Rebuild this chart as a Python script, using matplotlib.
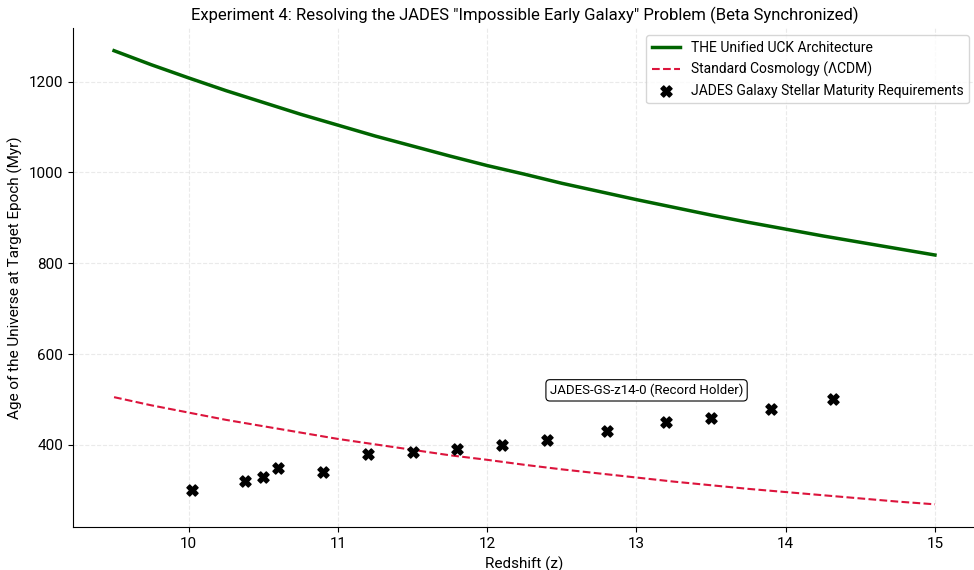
import matplotlib
matplotlib.use("Agg")
import matplotlib.pyplot as plt

plt.rcParams['font.family'] = ['Roboto', 'DejaVu Sans']

z_curve = [9.5, 9.75, 10.0, 10.25, 10.5, 10.75, 11.0, 11.25, 11.5, 11.75, 12.0,
           12.25, 12.5, 12.75, 13.0, 13.25, 13.5, 13.75, 14.0, 14.25, 14.5, 14.75, 15.0]
uck_age = [1268, 1237, 1208, 1180, 1154, 1128, 1104, 1080, 1058, 1036, 1015,
           996, 976, 958, 940, 923, 906, 890, 875, 860, 846, 832, 818]
lcdm_age = [505, 487, 471, 455, 441, 427, 413, 401, 389, 377, 367,
            356, 346, 337, 328, 319, 311, 303, 296, 289, 282, 275, 269]

jades_z = [10.02, 10.38, 10.5, 10.6, 10.9, 11.2, 11.5, 11.8, 12.1, 12.4, 12.8, 13.2, 13.5, 13.9, 14.32]
jades_age = [300, 320, 330, 350, 340, 380, 385, 390, 400, 410, 430, 450, 460, 480, 500]

annot_text = "JADES-GS-z14-0 (Record Holder)"
annot_pos = (12.42, 520)

fig = plt.figure(figsize=(9.74, 5.7), dpi=100)
ax = fig.add_axes([73/974, 1 - 527/570, (976 - 73)/974, (527 - 28)/570])
ax.plot(z_curve, uck_age, color='#006400', lw=2.5, label='THE Unified UCK Architecture')
ax.plot(z_curve, lcdm_age, color='#DC143C', lw=1.5, ls='--', label='Standard Cosmology (ΛCDM)')
ax.scatter(jades_z, jades_age, marker='X', color='black', s=64, zorder=5,
           label='JADES Galaxy Stellar Maturity Requirements')
ax.text(annot_pos[0], annot_pos[1], annot_text, fontsize=9.5, ha='left', va='center',
        bbox=dict(boxstyle='round,pad=0.3', fc='white', ec='black', lw=0.8))

ax.set_title('Experiment 4: Resolving the JADES "Impossible Early Galaxy" Problem (Beta Synchronized)', fontsize=12)
ax.set_xlabel('Redshift (z)', fontsize=11)
ax.set_ylabel('Age of the Universe at Target Epoch (Myr)', fontsize=11)
ax.tick_params(labelsize=11)
ax.grid(True, ls='--', alpha=0.4, color='#cccccc')
ax.spines['top'].set_visible(False)
ax.spines['right'].set_visible(False)
ax.legend(loc='upper right', fontsize=10)
fig.savefig('out.png', dpi=100)
